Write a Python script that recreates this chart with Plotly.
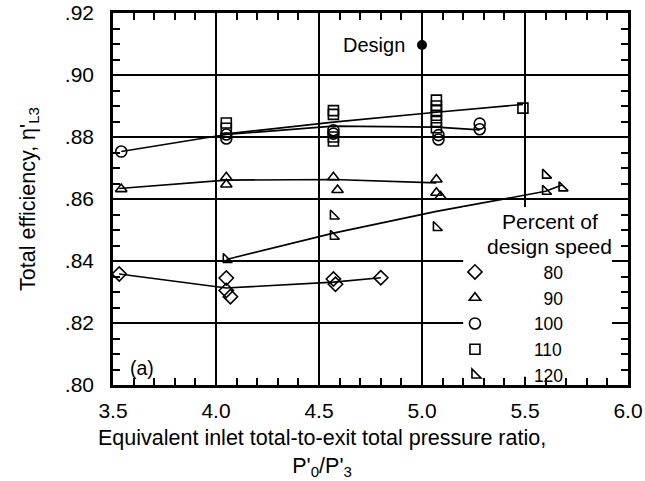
import plotly.graph_objects as go

# Axis ticks
x_ticks = [3.5, 4.0, 4.5, 5.0, 5.5, 6.0]
x_tick_text = ["3.5", "4.0", "4.5", "5.0", "5.5", "6.0"]
y_ticks = [0.80, 0.82, 0.84, 0.86, 0.88, 0.90, 0.92]
y_tick_text = [".80", ".82", ".84", ".86", ".88", ".90", ".92"]

# Percent of design speed labels
speeds = ["80", "90", "100", "110", "120"]

# 80 percent speed: measured points and faired curve
p80_ratio = [3.53, 4.05, 4.05, 4.07, 4.57, 4.58, 4.80]
p80_eff = [0.8358, 0.8345, 0.8305, 0.8285, 0.8342, 0.8325, 0.8346]
p80_fair_ratio = [3.53, 4.05, 4.57, 4.80]
p80_fair_eff = [0.8358, 0.8313, 0.8332, 0.8346]

# 90 percent speed
p90_ratio = [3.54, 4.05, 4.05, 4.57, 4.59, 5.07, 5.07, 5.09]
p90_eff = [0.8632, 0.8670, 0.8647, 0.8670, 0.8629, 0.8663, 0.8620, 0.8608]
p90_fair_ratio = [3.53, 4.05, 4.57, 5.07]
p90_fair_eff = [0.8634, 0.8661, 0.8663, 0.8652]

# 100 percent speed
p100_ratio = [3.54, 4.05, 4.05, 4.57, 4.57, 5.08, 5.08, 5.28, 5.28]
p100_eff = [0.8753, 0.8808, 0.8795, 0.8822, 0.8811, 0.8806, 0.8792, 0.8843, 0.8825]
p100_fair_ratio = [3.54, 4.05, 4.57, 5.07, 5.28]
p100_fair_eff = [0.8753, 0.8808, 0.8835, 0.8832, 0.8823]

# 110 percent speed
p110_ratio = [4.05, 4.05, 4.57, 4.57, 4.57, 4.57, 5.07, 5.07, 5.07, 5.07, 5.07, 5.07, 5.49]
p110_eff = [0.8845, 0.8828, 0.8885, 0.8873, 0.8800, 0.8787,
            0.8919, 0.8900, 0.8885, 0.8870, 0.8850, 0.8830, 0.8893]
p110_fair_ratio = [4.05, 4.57, 5.07, 5.49]
p110_fair_eff = [0.8810, 0.8848, 0.8880, 0.8905]

# 120 percent speed
p120_ratio = [4.05, 4.57, 4.57, 5.07, 5.60, 5.60, 5.68]
p120_eff = [0.8405, 0.8545, 0.8480, 0.8508, 0.8677, 0.8625, 0.8636]
p120_fair_ratio = [4.05, 4.57, 5.07, 5.60, 5.68]
p120_fair_eff = [0.8405, 0.8490, 0.8560, 0.8625, 0.8645]

# Design point
design_ratio = [5.0]
design_eff = [0.9097]

series = [
    (speeds[0], p80_ratio, p80_eff, p80_fair_ratio, p80_fair_eff, "diamond-open", 11),
    (speeds[1], p90_ratio, p90_eff, p90_fair_ratio, p90_fair_eff, "triangle-up-open", 10),
    (speeds[2], p100_ratio, p100_eff, p100_fair_ratio, p100_fair_eff, "circle-open", 11),
    (speeds[3], p110_ratio, p110_eff, p110_fair_ratio, p110_fair_eff, "square-open", 10),
    (speeds[4], p120_ratio, p120_eff, p120_fair_ratio, p120_fair_eff, "triangle-sw-open", 10),
]

FONT = "Liberation Sans, Arial, Helvetica, sans-serif"

fig = go.Figure()

# Faired curves first so the symbols sit on top
for name, xs, ys, fx, fy, sym, size in series:
    fig.add_trace(go.Scatter(
        x=fx, y=fy, mode="lines",
        line=dict(color="black", width=1.6),
        showlegend=False, hoverinfo="skip",
    ))

# Right-align the speed numbers in the key with figure spaces
width_max = max(len(s) for s in speeds)
for name, xs, ys, fx, fy, sym, size in series:
    label = "\u2007" * (4 + width_max - len(name)) + name
    fig.add_trace(go.Scatter(
        x=xs, y=ys, mode="markers", name=label,
        marker=dict(symbol=sym, size=size, color="black",
                    line=dict(color="black", width=1.6)),
    ))

fig.add_trace(go.Scatter(
    x=design_ratio, y=design_eff, mode="markers", showlegend=False,
    marker=dict(symbol="circle", size=10, color="black"),
))

fig.add_annotation(
    x=design_ratio[0], y=design_eff[0], text="Design", showarrow=False,
    xanchor="right", yanchor="middle", xshift=-15,
    font=dict(family=FONT, size=20, color="black"),
)

fig.add_annotation(
    xref="paper", yref="paper", x=0.03, y=0.045, text="(a)", showarrow=False,
    xanchor="left", yanchor="middle",
    font=dict(family=FONT, size=19.5, color="black"),
)

# White panel behind the key, hiding the grid lines there
fig.add_shape(
    type="rect", xref="paper", yref="paper",
    x0=0.68, x1=0.969, y0=0.022, y1=0.4785,
    fillcolor="white", line=dict(width=0), layer="above",
)

# Key heading, two lines
for txt, yp in (("Percent of", 0.4395), ("design speed", 0.3723)):
    fig.add_annotation(
        xref="paper", yref="paper", x=0.8485, y=yp,
        text=txt, showarrow=False,
        xanchor="center", yanchor="middle",
        font=dict(family=FONT, size=21, color="black"),
    )

# X-axis title, centred under the whole figure
fig.add_annotation(
    xref="paper", yref="paper", x=0.406, y=-0.104, yanchor="top",
    text="Equivalent inlet total-to-exit total pressure ratio,<br>P'<sub>0</sub>/P'<sub>3</sub>",
    showarrow=False, align="center",
    font=dict(family=FONT, size=21.5, color="black"),
)

axis_common = dict(
    showline=True, linecolor="black", linewidth=2.5, mirror="ticks",
    showgrid=True, gridcolor="black", gridwidth=1.5,
    ticks="inside", ticklen=8, tickwidth=1.5, tickcolor="black",
    zeroline=False, automargin=False,
    tickfont=dict(family=FONT, size=21, color="black"),
)

fig.update_xaxes(
    range=[3.5, 6.0], tickvals=x_ticks, ticktext=x_tick_text,
    minor=dict(dtick=0.1, ticks="inside", ticklen=7, tickwidth=1.5,
               tickcolor="black", showgrid=False),
    ticklabelstandoff=5,
    **axis_common,
)
fig.update_yaxes(
    range=[0.80, 0.92], tickvals=y_ticks, ticktext=y_tick_text,
    minor=dict(dtick=0.005, ticks="inside", ticklen=7, tickwidth=1.5,
               tickcolor="black", showgrid=False),
    ticklabelstandoff=12,
    title=dict(text="Total efficiency, \u03b7'<sub>L3</sub>", standoff=24,
               font=dict(family=FONT, size=21.5, color="black")),
    **axis_common,
)

fig.update_layout(
    width=645, height=481,
    margin=dict(l=113, r=17, t=13, b=96, autoexpand=False),
    paper_bgcolor="white", plot_bgcolor="white",
    font=dict(family=FONT, color="black"),
    legend=dict(
        x=0.664, y=0.352, xanchor="left", yanchor="top",
        bgcolor="rgba(0,0,0,0)", borderwidth=0,
        font=dict(family=FONT, size=17.5, color="black"),
        itemwidth=30,
    ),
)

fig.write_html("out.html")
